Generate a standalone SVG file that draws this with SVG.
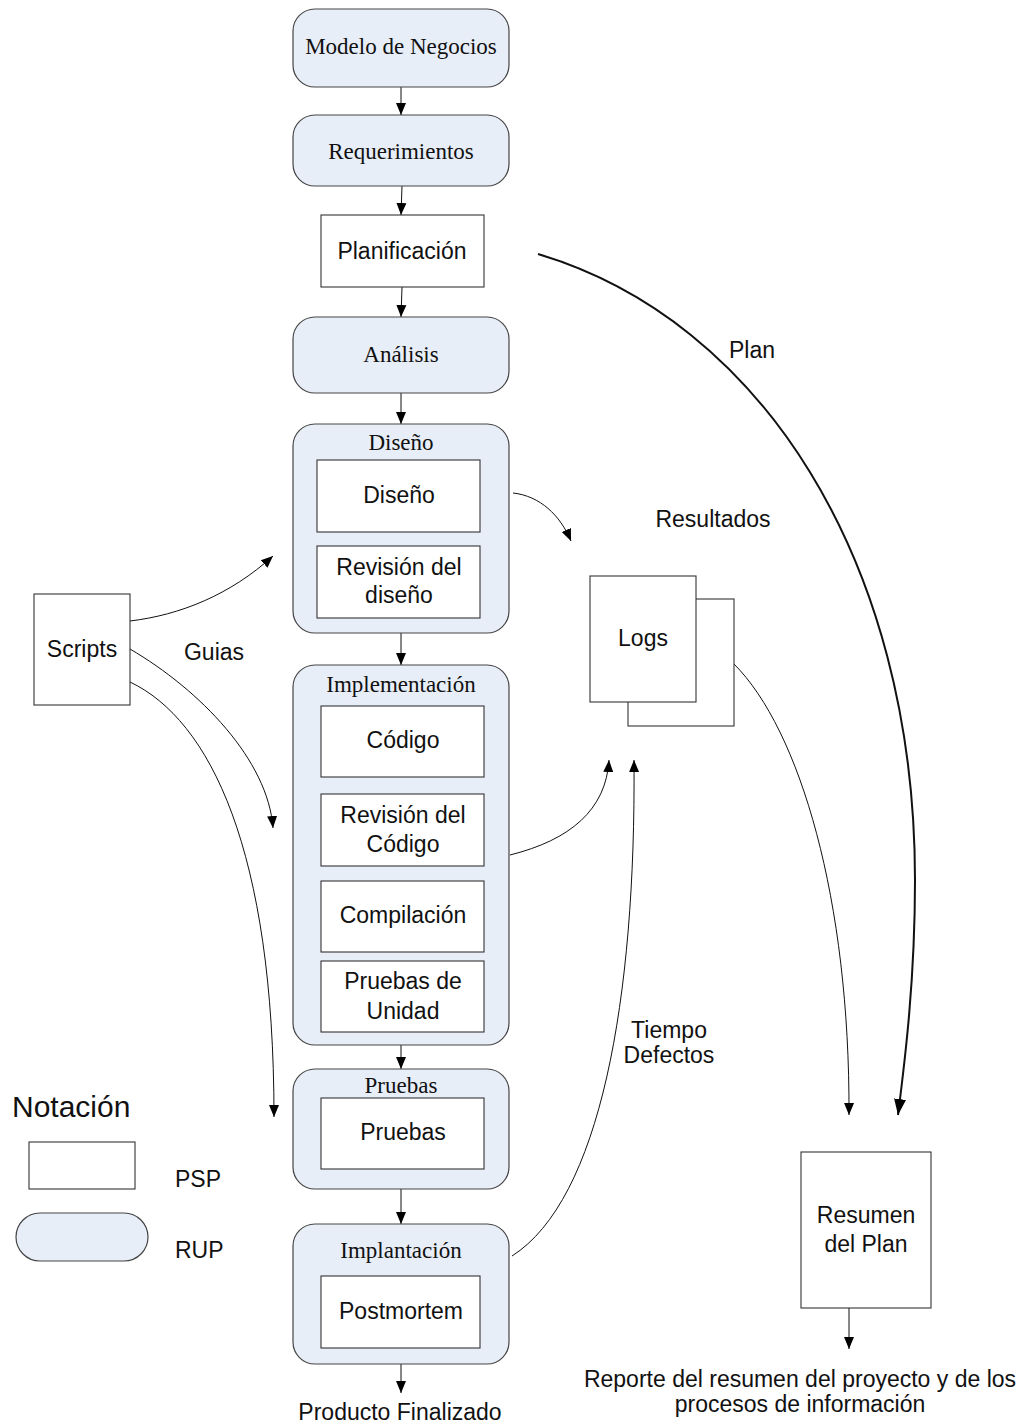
<svg xmlns="http://www.w3.org/2000/svg" width="1029" height="1425" viewBox="0 0 1029 1425">
<style>
.rup{fill:#e8eef8;stroke:#444;stroke-width:1.2}
.psp{fill:#fff;stroke:#333;stroke-width:1.1}
.serif{font-family:"Liberation Serif","Times New Roman",serif;font-size:23px;fill:#111;text-anchor:middle}
.sans{font-family:"Liberation Sans",Arial,sans-serif;font-size:23px;fill:#111;text-anchor:middle}
.lbl{font-family:"Liberation Sans",Arial,sans-serif;font-size:22px;fill:#111}
.conn{fill:none;stroke:#111;stroke-width:1}
</style>
<defs>
<marker id="ah" markerUnits="userSpaceOnUse" markerWidth="12" markerHeight="12" viewBox="0 0 12 10" refX="12" refY="5" orient="auto">
<path d="M0,0 L12,5 L0,10 Z" fill="#000"/>
</marker>
<marker id="ahb" markerUnits="userSpaceOnUse" markerWidth="16" markerHeight="16" viewBox="0 0 16 12" refX="16" refY="6" orient="auto">
<path d="M0,0 L16,6 L0,12 Z" fill="#000"/>
</marker>
</defs>

<g id="connectors">
<line class="conn" x1="401" y1="87" x2="401" y2="115" marker-end="url(#ah)"/>
<line class="conn" x1="402" y1="186" x2="401" y2="215" marker-end="url(#ah)"/>
<line class="conn" x1="402" y1="287" x2="401" y2="317" marker-end="url(#ah)"/>
<line class="conn" x1="401" y1="393" x2="401" y2="424" marker-end="url(#ah)"/>
<line class="conn" x1="401" y1="633" x2="401" y2="665" marker-end="url(#ah)"/>
<line class="conn" x1="401" y1="1045" x2="401" y2="1069" marker-end="url(#ah)"/>
<line class="conn" x1="401" y1="1189" x2="401" y2="1224" marker-end="url(#ah)"/>
<line class="conn" x1="401" y1="1364" x2="401" y2="1393" marker-end="url(#ah)"/>
<line class="conn" x1="849" y1="1308" x2="849" y2="1349" marker-end="url(#ah)"/>
<path class="conn" d="M130,621 C180,615 230,595 273,556" marker-end="url(#ah)"/>
<path class="conn" d="M130,649 C200,690 268,760 273,828" marker-end="url(#ah)"/>
<path class="conn" d="M130,682 C210,720 274,850 274,1117" marker-end="url(#ah)"/>
<path class="conn" d="M513,493 C540,496 560,515 571,541" marker-end="url(#ah)"/>
<path class="conn" d="M510,855 C570,840 606,810 609,760" marker-end="url(#ah)"/>
<path class="conn" d="M512,1256 C600,1200 636,1000 634,760" marker-end="url(#ah)"/>
<path class="conn" d="M734,664 C800,730 850,900 849,1115" marker-end="url(#ah)"/>
<path class="conn" style="stroke-width:2" d="M538,254 C760,320 915,560 915,880 C915,980 905,1060 898,1115" marker-end="url(#ahb)"/>
</g>

<g id="modelo">
<rect class="rup" x="293" y="9" width="216" height="78" rx="22"/>
<text class="serif" x="401" y="54">Modelo de Negocios</text>
</g>
<g id="requerimientos">
<rect class="rup" x="293" y="115" width="216" height="71" rx="22"/>
<text class="serif" x="401" y="159">Requerimientos</text>
</g>
<g id="planificacion">
<rect class="psp" x="321" y="215" width="163" height="72"/>
<text class="sans" x="402" y="259">Planificación</text>
</g>
<g id="analisis">
<rect class="rup" x="293" y="317" width="216" height="76" rx="22"/>
<text class="serif" x="401" y="362">Análisis</text>
</g>
<g id="diseno-fase">
<rect class="rup" x="293" y="424" width="216" height="209" rx="22"/>
<text class="serif" x="401" y="450">Diseño</text>
<g id="diseno">
<rect class="psp" x="317" y="460" width="163" height="72"/>
<text class="sans" x="399" y="503">Diseño</text>
</g>
<g id="revision-diseno">
<rect class="psp" x="317" y="546" width="163" height="72"/>
<text class="sans" x="399" y="575">Revisión del</text>
<text class="sans" x="399" y="603">diseño</text>
</g>
</g>
<g id="implementacion-fase">
<rect class="rup" x="293" y="665" width="216" height="380" rx="22"/>
<text class="serif" x="401" y="692">Implementación</text>
<g id="codigo">
<rect class="psp" x="321" y="706" width="163" height="71"/>
<text class="sans" x="403" y="748">Código</text>
</g>
<g id="revision-codigo">
<rect class="psp" x="321" y="794" width="163" height="72"/>
<text class="sans" x="403" y="823">Revisión del</text>
<text class="sans" x="403" y="852">Código</text>
</g>
<g id="compilacion">
<rect class="psp" x="321" y="881" width="163" height="71"/>
<text class="sans" x="403" y="923">Compilación</text>
</g>
<g id="pruebas-unidad">
<rect class="psp" x="321" y="961" width="163" height="71"/>
<text class="sans" x="403" y="989">Pruebas de</text>
<text class="sans" x="403" y="1019">Unidad</text>
</g>
</g>
<g id="pruebas-fase">
<rect class="rup" x="293" y="1069" width="216" height="120" rx="22"/>
<text class="serif" x="401" y="1093">Pruebas</text>
<g id="pruebas">
<rect class="psp" x="321" y="1098" width="163" height="71"/>
<text class="sans" x="403" y="1140">Pruebas</text>
</g>
</g>
<g id="implantacion-fase">
<rect class="rup" x="293" y="1224" width="216" height="140" rx="22"/>
<text class="serif" x="401" y="1258">Implantación</text>
<g id="postmortem">
<rect class="psp" x="321" y="1276" width="159" height="72"/>
<text class="sans" x="401" y="1319">Postmortem</text>
</g>
</g>
<g id="producto">
<text class="sans" x="400" y="1420">Producto Finalizado</text>
</g>

<g id="scripts">
<rect class="psp" x="34" y="594" width="96" height="111"/>
<text class="sans" x="82" y="657">Scripts</text>
</g>
<text class="sans" x="214" y="660">Guias</text>

<g id="logs">
<rect class="psp" x="628" y="599" width="106" height="127"/>
<rect class="psp" x="590" y="576" width="106" height="126"/>
<text class="sans" x="643" y="646">Logs</text>
</g>
<text class="sans" x="713" y="527">Resultados</text>
<text class="sans" x="752" y="358">Plan</text>
<text class="sans" x="669" y="1038">Tiempo</text>
<text class="sans" x="669" y="1063">Defectos</text>

<g id="resumen">
<rect class="psp" x="801" y="1152" width="130" height="156"/>
<text class="sans" x="866" y="1223">Resumen</text>
<text class="sans" x="866" y="1252">del Plan</text>
</g>
<g id="reporte">
<text class="sans" x="800" y="1387">Reporte del resumen del proyecto y de los</text>
<text class="sans" x="800" y="1412">procesos de información</text>
</g>

<g id="notacion">
<text x="12" y="1117" style="font-family:'Liberation Sans',Arial,sans-serif;font-size:30px;fill:#111">Notación</text>
<rect class="psp" x="29" y="1142" width="106" height="47"/>
<text class="lbl" x="175" y="1187" style="font-size:23px">PSP</text>
<rect class="rup" x="16" y="1213" width="132" height="48" rx="24"/>
<text class="lbl" x="175" y="1258" style="font-size:23px">RUP</text>
</g>
</svg>
